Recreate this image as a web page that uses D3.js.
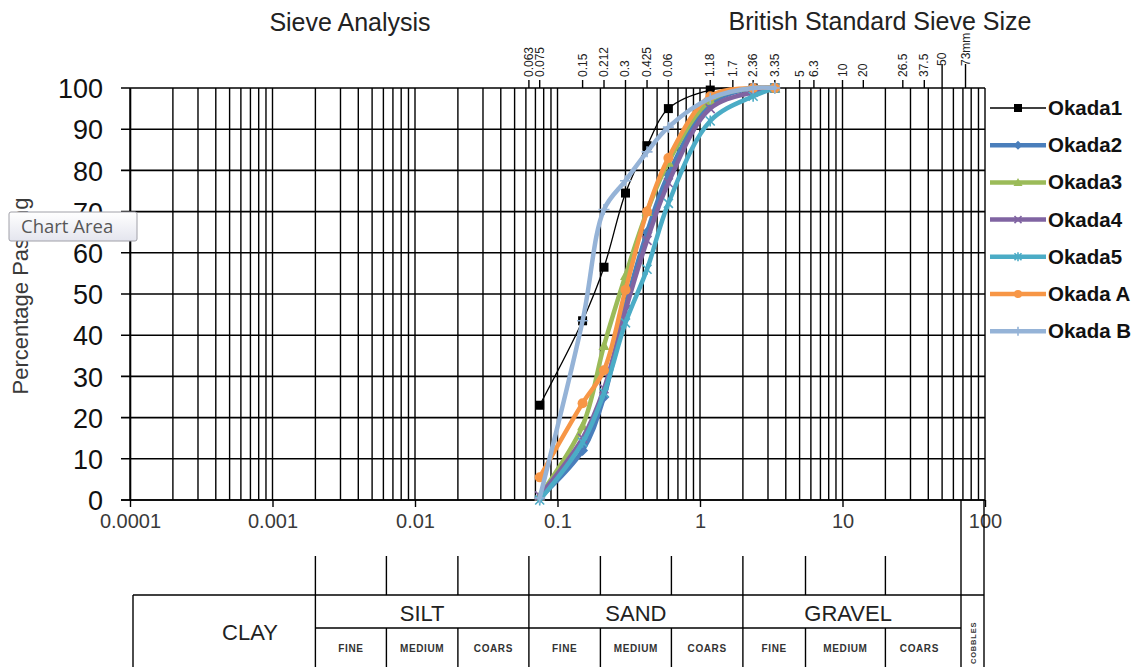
<!DOCTYPE html>
<html>
<head>
<meta charset="utf-8">
<script src="https://cdn.jsdelivr.net/npm/d3@7"></script>
<style>
  html, body { margin: 0; padding: 0; background: #fff; }
  svg { display: block; font-family: "Liberation Sans", Arial, sans-serif; }
</style>
</head>
<body>
<svg id="chart" width="1137" height="667"></svg>
<script>
// Sieve sizes (mm) used for every sample
const sieveSizes = [0.075, 0.15, 0.212, 0.3, 0.425, 0.6, 1.18, 2.36, 3.35];

// Percentage passing for each sample
const okada1 = [23, 43.5, 56.5, 74.5, 86, 95, 99.5, 100, 100];
const okada2 = [0.5, 12, 25, 47, 65, 79, 96, 100, 100];
const okada3 = [1, 18, 37.5, 54.5, 70, 82, 97, 100, 100];
const okada4 = [1, 15, 27, 46, 63, 77, 95, 99, 100];
const okada5 = [0, 14, 26, 43, 56, 72, 92, 98, 100];
const okadaA = [5.5, 23.5, 31.5, 51, 70, 83, 98, 100, 100];
const okadaB = [0.5, 43.5, 70.5, 77.5, 84.5, 90.5, 97.5, 100, 100];

const seriesNames = ["Okada1", "Okada2", "Okada3", "Okada4", "Okada5", "Okada A", "Okada B"];
const seriesValues = [okada1, okada2, okada3, okada4, okada5, okadaA, okadaB];

// Bottom axis decades
const xTickValues = [0.0001, 0.001, 0.01, 0.1, 1, 10, 100];
const xTickLabels = ["0.0001", "0.001", "0.01", "0.1", "1", "10", "100"];
const yTickValues = [0, 10, 20, 30, 40, 50, 60, 70, 80, 90, 100];

// British Standard sieve sizes shown on the top axis
const bsSieveValues = [0.063, 0.075, 0.15, 0.212, 0.3, 0.425, 0.6, 1.18, 1.7, 2.36, 3.35, 5, 6.3, 10, 14, 26.5, 37.5, 50, 73];
const bsSieveLabels = ["0.063", "0.075", "0.15", "0.212", "0.3", "0.425", "0.06", "1.18", "1.7", "2.36", "3.35", "5", "6.3", "10", "20", "26.5", "37.5", "50", "73mm"];

// Soil classification bands (particle size boundaries, mm)
const majorBounds = [0.002, 0.063, 2];
const minorBounds = [0.0063, 0.02, 0.2, 0.63, 5.5, 20];
const soilGroups = [
  { name: "SILT", from: 0.002, to: 0.063 },
  { name: "SAND", from: 0.063, to: 2 },
  { name: "GRAVEL", from: 2, to: 63 }
];
const subLabels = ["FINE", "MEDIUM", "COARS"];

const colors = ["#000000", "#4A7EBB", "#9BBB59", "#8064A2", "#4BACC6", "#F79646", "#95B3D7"];
const markerTypes = ["square", "diamond", "triangle", "x", "asterisk", "circle", "plus"];

const svg = d3.select("#chart");
const x = d3.scaleLog().domain([1e-4, 100]).range([130, 985]);
const y = d3.scaleLinear().domain([0, 100]).range([500, 88]);

// ---- titles ----
svg.append("text").attr("x", 350).attr("y", 31).attr("text-anchor", "middle")
  .attr("font-size", 25).attr("fill", "#222").text("Sieve Analysis");
svg.append("text").attr("x", 880).attr("y", 30).attr("text-anchor", "middle")
  .attr("font-size", 25).attr("fill", "#222").text("British Standard Sieve Size");

// ---- grid ----
const grid = svg.append("g").attr("stroke", "#000");
const minorX = [];
for (let e = -4; e < 2; e++) {
  for (let m = 1; m <= 9; m++) minorX.push(m * Math.pow(10, e));
}
minorX.push(100);
grid.selectAll("line.v").data(minorX).join("line")
  .attr("x1", d => x(d)).attr("x2", d => x(d))
  .attr("y1", y(100)).attr("y2", y(0)).attr("stroke-width", 1.4);
grid.selectAll("line.h").data(yTickValues).join("line")
  .attr("x1", 121).attr("x2", x(100))
  .attr("y1", d => y(d)).attr("y2", d => y(d)).attr("stroke-width", 1.6);

// ---- bottom axis ----
const xAxis = d3.axisBottom(x).tickValues(xTickValues).tickFormat((d, i) => xTickLabels[i]).tickSize(7).tickSizeOuter(0);
const gx = svg.append("g").attr("transform", `translate(0,${y(0)})`).call(xAxis);
gx.select(".domain").attr("stroke", "#000").attr("stroke-width", 1.6).attr("d", `M121,0H${x(100)}`);
gx.selectAll(".tick line").attr("stroke", "#000").attr("stroke-width", 1.4);
gx.selectAll(".tick text").attr("font-size", 20).attr("fill", "#3a3a3a").attr("dy", "0.9em")
  .attr("font-family", "Liberation Sans, Arial, sans-serif");

// ---- left axis ----
const yAxis = d3.axisLeft(y).tickValues(yTickValues).tickSize(0).tickPadding(27);
const gy = svg.append("g").attr("transform", `translate(130,0)`).call(yAxis);
gy.select(".domain").attr("stroke", "#000").attr("stroke-width", 1.6);
gy.selectAll(".tick text").attr("font-size", 27).attr("fill", "#111").attr("dy", "0.36em")
  .attr("font-family", "Liberation Sans, Arial, sans-serif");

svg.append("text").attr("transform", "translate(28,296) rotate(-90)")
  .attr("text-anchor", "middle").attr("font-size", 22).attr("fill", "#3a3a3a")
  .text("Percentage Passing");

// ---- top axis: BS sieve sizes ----
const sieveAxis = svg.append("g");
sieveAxis.selectAll("line").data(bsSieveValues).join("line")
  .attr("x1", d => x(d)).attr("x2", d => x(d))
  .attr("y1", y(100)).attr("y2", d => y(100) - (d >= 50 ? 24 : 8))
  .attr("stroke", "#000").attr("stroke-width", 1.4);
sieveAxis.selectAll("text").data(bsSieveValues).join("text")
  .attr("transform", d => `translate(${x(d) + 4},${d >= 50 ? 66 : 77}) rotate(-90)`)
  .attr("font-size", 12).attr("fill", "#222")
  .text((d, i) => bsSieveLabels[i]);

// ---- series ----
const lineGen = d3.line()
  .x(d => x(d[0])).y(d => y(d[1]))
  .curve(d3.curveCatmullRom.alpha(0.5));

function markerPath(type, s) {
  const h = s / 2;
  switch (type) {
    case "square": return `M${-h},${-h}H${h}V${h}H${-h}Z`;
    case "diamond": return `M0,${-h - 1}L${h + 1},0L0,${h + 1}L${-h - 1},0Z`;
    case "triangle": return `M0,${-h - 1}L${h + 1},${h}L${-h - 1},${h}Z`;
    case "x": return `M${-h},${-h}L${h},${h}M${h},${-h}L${-h},${h}`;
    case "asterisk": return `M${-h},${-h}L${h},${h}M${h},${-h}L${-h},${h}M0,${-h - 1}V${h + 1}`;
    case "plus": return `M${-h - 1},0H${h + 1}M0,${-h - 1}V${h + 1}`;
    default: return "";
  }
}

function drawMarker(g, type, color, cx, cy, size) {
  if (type === "circle") {
    g.append("circle").attr("cx", cx).attr("cy", cy).attr("r", size / 2 + 0.5).attr("fill", color);
  } else if (type === "x" || type === "asterisk" || type === "plus") {
    g.append("path").attr("transform", `translate(${cx},${cy})`).attr("d", markerPath(type, size))
      .attr("stroke", color).attr("stroke-width", 1.6).attr("fill", "none");
  } else {
    g.append("path").attr("transform", `translate(${cx},${cy})`).attr("d", markerPath(type, size))
      .attr("fill", color);
  }
}

const plot = svg.append("g");
seriesValues.forEach((vals, si) => {
  const pts = sieveSizes.map((s, i) => [s, vals[i]]);
  const g = plot.append("g");
  g.append("path").datum(pts).attr("d", lineGen)
    .attr("fill", "none").attr("stroke", colors[si])
    .attr("stroke-width", si === 0 ? 1.3 : 4.5)
    .attr("stroke-linejoin", "round").attr("stroke-linecap", "round");
  pts.forEach(p => drawMarker(g, markerTypes[si], colors[si], x(p[0]), y(p[1]), 9));
});

// ---- legend ----
const legend = svg.append("g");
seriesNames.forEach((name, i) => {
  const ly = 108 + i * 37.2;
  legend.append("line").attr("x1", 990).attr("x2", 1046).attr("y1", ly).attr("y2", ly)
    .attr("stroke", colors[i]).attr("stroke-width", i === 0 ? 1.3 : 4.5);
  drawMarker(legend, markerTypes[i], colors[i], 1018, ly, i === 0 ? 8 : 7);
  legend.append("text").attr("x", 1048).attr("y", ly + 7).attr("font-size", 20.5)
    .attr("font-weight", "bold").attr("fill", "#111").text(name);
});

// ---- classification table ----
const tbl = svg.append("g").attr("stroke", "#000").attr("stroke-width", 1.4).attr("fill", "none");
const tTop = 595, tMid = 628, tBot = 667, tickTop = 556;
const cobL = 961, cobR = 984;
tbl.append("line").attr("x1", 133).attr("x2", cobR).attr("y1", tTop).attr("y2", tTop);
tbl.append("line").attr("x1", 133).attr("x2", 133).attr("y1", tTop).attr("y2", tBot);
tbl.append("line").attr("x1", x(0.002)).attr("x2", cobL).attr("y1", tMid).attr("y2", tMid);
// cobbles column lines run down from the axis
[cobL, cobR].forEach(cx => tbl.append("line").attr("x1", cx).attr("x2", cx).attr("y1", y(0)).attr("y2", tBot));
// major boundaries: full height
majorBounds.forEach(b => tbl.append("line")
  .attr("x1", x(b)).attr("x2", x(b)).attr("y1", tickTop).attr("y2", tBot));
// minor boundaries: above the table and in the sub-label row
minorBounds.forEach(b => {
  tbl.append("line").attr("x1", x(b)).attr("x2", x(b)).attr("y1", tickTop).attr("y2", tTop);
  tbl.append("line").attr("x1", x(b)).attr("x2", x(b)).attr("y1", tMid).attr("y2", tBot);
});

const tt = svg.append("g").attr("fill", "#222");
tt.append("text").attr("x", 250).attr("y", 640).attr("text-anchor", "middle").attr("font-size", 22).text("CLAY");
soilGroups.forEach(gp => {
  const cx = (x(gp.from) + x(Math.min(gp.to, 60))) / 2;
  tt.append("text").attr("x", cx).attr("y", 621).attr("text-anchor", "middle").attr("font-size", 22).text(gp.name);
  const inner = minorBounds.filter(b => b > gp.from && b < gp.to);
  const cuts = [gp.from, ...inner, gp.to];
  for (let k = 0; k < 3; k++) {
    const mx = (x(cuts[k]) + x(Math.min(cuts[k + 1], 60))) / 2;
    tt.append("text").attr("x", mx).attr("y", 652).attr("text-anchor", "middle")
      .attr("font-size", 10).attr("font-weight", 600).attr("letter-spacing", 0.6).attr("fill", "#333").text(subLabels[k]);
  }
});
tt.append("text").attr("transform", `translate(${(cobL + cobR) / 2 + 3},664) rotate(-90)`)
  .attr("font-size", 7.5).attr("font-weight", 600).attr("letter-spacing", 0.8).attr("fill", "#333").text("COBBLES");

// ---- hover tip label ----
const tip = svg.append("g").attr("transform", "translate(9,212)");
const grad = svg.append("defs").append("linearGradient").attr("id", "tipGrad")
  .attr("x1", 0).attr("x2", 0).attr("y1", 0).attr("y2", 1);
grad.append("stop").attr("offset", "0%").attr("stop-color", "#ffffff");
grad.append("stop").attr("offset", "100%").attr("stop-color", "#e4e5ee");
tip.append("rect").attr("width", 128).attr("height", 29).attr("rx", 2)
  .attr("fill", "url(#tipGrad)").attr("stroke", "#a0a0a8").attr("stroke-width", 1);
tip.append("text").attr("x", 12).attr("y", 21).attr("font-size", 18.5).attr("fill", "#575757")
  .attr("font-family", "Open Sans, DejaVu Sans, sans-serif").text("Chart Area");
</script>
</body>
</html>
